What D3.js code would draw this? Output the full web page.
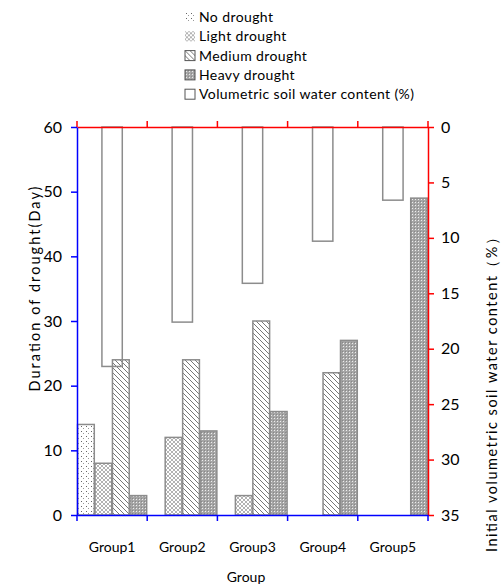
<!DOCTYPE html>
<html>
<head>
<meta charset="utf-8">
<script src="https://cdn.jsdelivr.net/npm/d3@7"></script>
<style>
  body { margin: 0; background: #fff; }
  text { font-family: Lato, 'Open Sans', sans-serif; }
</style>
</head>
<body>
<div id="chart"></div>
<script>
// values
const groups = ['Group1', 'Group2', 'Group3', 'Group4', 'Group5']
const noDrought = [14, 0, 0, 0, 0]
const lightDrought = [8, 12, 3, 0, 0]
const mediumDrought = [24, 24, 30, 22, 0]
const heavyDrought = [3, 13, 16, 27, 49]
const soilWater = [21.6, 17.6, 14.1, 10.3, 6.6]
const leftTicks = [0, 10, 20, 30, 40, 50, 60]
const rightTicks = [0, 5, 10, 15, 20, 25, 30, 35]
const seriesNames = ['No drought', 'Light drought', 'Medium drought', 'Heavy drought']
const legendNames = [...seriesNames, 'Volumetric soil water content (%)']

const width = 501
const height = 587
const margin = { top: 127, right: 73, bottom: 72, left: 77 }
const barStroke = '#8c8c8c'

const series = [noDrought, lightDrought, mediumDrought, heavyDrought]
const patternIds = ['pNo', 'pLight', 'pMedium', 'pHeavy']

const svg = d3.select('#chart').append('svg')
  .attr('width', width)
  .attr('height', height)

// hatch patterns
const defs = svg.append('defs')

const pNo = defs.append('pattern').attr('id', 'pNo')
  .attr('patternUnits', 'userSpaceOnUse').attr('width', 5).attr('height', 5)
pNo.append('rect').attr('width', 5).attr('height', 5).attr('fill', '#fff')
pNo.append('rect').attr('x', 1).attr('y', 1).attr('width', 1).attr('height', 1).attr('fill', '#666')
pNo.append('rect').attr('x', 3).attr('y', 3).attr('width', 1).attr('height', 1).attr('fill', '#999')

const pLight = defs.append('pattern').attr('id', 'pLight')
  .attr('patternUnits', 'userSpaceOnUse').attr('width', 4).attr('height', 4)
pLight.append('rect').attr('width', 4).attr('height', 4).attr('fill', '#fff')
pLight.append('path').attr('d', 'M0,0L4,4M4,0L0,4')
  .attr('stroke', '#aaa').attr('stroke-width', 0.9)

const pMedium = defs.append('pattern').attr('id', 'pMedium')
  .attr('patternUnits', 'userSpaceOnUse').attr('width', 5).attr('height', 5)
pMedium.append('rect').attr('width', 5).attr('height', 5).attr('fill', '#fff')
pMedium.append('path').attr('d', 'M-1,-1L6,6M-1,4L1,6M4,-1L6,1')
  .attr('stroke', '#777').attr('stroke-width', 1)

const pHeavy = defs.append('pattern').attr('id', 'pHeavy')
  .attr('patternUnits', 'userSpaceOnUse').attr('width', 3).attr('height', 3)
pHeavy.append('rect').attr('width', 3).attr('height', 3).attr('fill', '#a6a6a6')
pHeavy.append('rect').attr('x', 1).attr('y', 1).attr('width', 1).attr('height', 1).attr('fill', '#eee')
pHeavy.append('rect').attr('x', 0).attr('y', 0).attr('width', 1).attr('height', 1).attr('fill', '#888')

// scales
const x = d3.scaleBand()
  .domain(groups)
  .range([margin.left, width - margin.right])

const x1 = d3.scaleBand()
  .domain(d3.range(series.length))
  .range([0, x.bandwidth()])
  .paddingInner(0.04)
  .paddingOuter(0.03)

const yL = d3.scaleLinear()
  .domain([0, 60])
  .range([height - margin.bottom, margin.top])

const yR = d3.scaleLinear()
  .domain([0, 35])
  .range([margin.top, height - margin.bottom])

// drought bars
series.forEach((vals, si) => {
  svg.append('g')
    .selectAll('rect')
    .data(vals.map((v, i) => ({ g: groups[i], v })).filter(d => d.v > 0))
    .join('rect')
    .attr('x', d => x(d.g) + x1(si))
    .attr('y', d => yL(d.v))
    .attr('width', x1.bandwidth())
    .attr('height', d => yL(0) - yL(d.v))
    .attr('fill', `url(#${patternIds[si]})`)
    .attr('stroke', barStroke)
    .attr('stroke-width', 1.5)
})

// soil water bars hang from the top (reversed right axis)
const boxW = x.bandwidth() * 0.29
svg.append('g')
  .selectAll('rect')
  .data(soilWater.map((v, i) => ({ g: groups[i], v })))
  .join('rect')
  .attr('x', d => x(d.g) + x.bandwidth() / 2 - boxW / 2)
  .attr('y', yR(0))
  .attr('width', boxW)
  .attr('height', d => yR(d.v) - yR(0))
  .attr('fill', 'none')
  .attr('stroke', barStroke)
  .attr('stroke-width', 1.5)

// axes
const bounds = [...groups.map(g => x(g)), width - margin.right]

const styleAxis = (g, color) => {
  g.select('.domain').attr('stroke', color).attr('stroke-width', 1.5)
  g.selectAll('.tick line').attr('stroke', color).attr('stroke-width', 1.5)
  g.selectAll('.tick text').attr('fill', '#000')
}

svg.append('g')
  .attr('transform', `translate(0,${margin.top})`)
  .call(d3.axisTop(d3.scaleLinear().domain([0, 1]).range([margin.left, width - margin.right]))
    .tickValues([]).tickSizeOuter(0))
  .call(g => g.select('.domain').attr('stroke', 'red').attr('stroke-width', 1.5))
  .call(g => g.selectAll('.b').data(bounds).join('line')
    .attr('x1', d => d).attr('x2', d => d).attr('y1', 0).attr('y2', -6)
    .attr('stroke', 'red').attr('stroke-width', 1.5))

svg.append('g')
  .attr('transform', `translate(${width - margin.right},0)`)
  .call(d3.axisRight(yR).tickValues(rightTicks).tickSize(6).tickSizeOuter(0).tickPadding(7))
  .call(g => styleAxis(g, 'red'))
  .call(g => g.selectAll('.tick text').attr('font-size', 16).attr('font-family', 'Lato'))

svg.append('g')
  .attr('transform', `translate(${margin.left},0)`)
  .call(d3.axisLeft(yL).tickValues(leftTicks).tickSize(6).tickSizeOuter(0).tickPadding(9))
  .call(g => styleAxis(g, 'blue'))
  .call(g => g.selectAll('.tick text').attr('font-size', 16).attr('font-family', 'Lato'))

svg.append('g')
  .attr('transform', `translate(0,${height - margin.bottom})`)
  .call(d3.axisBottom(x).tickSize(0).tickSizeOuter(0).tickPadding(27))
  .call(g => g.select('.domain').attr('stroke', 'blue').attr('stroke-width', 1.5))
  .call(g => g.selectAll('.tick text').attr('font-size', 14).attr('font-family', 'Lato'))
  .call(g => g.selectAll('.b').data(bounds).join('line')
    .attr('x1', d => d).attr('x2', d => d).attr('y1', 0).attr('y2', 6)
    .attr('stroke', 'blue').attr('stroke-width', 1.5))

// axis titles
svg.append('text')
  .attr('transform', 'translate(40,289) rotate(-90)')
  .attr('text-anchor', 'middle')
  .attr('font-size', 14.5)
  .attr('textLength', 205)
  .attr('lengthAdjust', 'spacing')
  .text('Duration of drought(Day)')

svg.append('text')
  .attr('transform', 'translate(497,391) rotate(-90)')
  .attr('text-anchor', 'middle')
  .attr('font-size', 14.5)
  .attr('textLength', 322)
  .attr('lengthAdjust', 'spacing')
  .text('Initial volumetric soil water content（%）')

svg.append('text')
  .attr('x', 246)
  .attr('y', 582)
  .attr('text-anchor', 'middle')
  .attr('font-size', 14)
  .text('Group')

// legend
const legend = svg.append('g').attr('transform', 'translate(185,12)')
const row = legend.selectAll('g')
  .data(legendNames)
  .join('g')
  .attr('transform', (d, i) => `translate(0,${i * 19.3})`)

row.append('rect')
  .attr('width', 10).attr('height', 10).attr('y', 0)
  .attr('fill', (d, i) => i < 4 ? `url(#${patternIds[i]})` : '#fff')
  .attr('stroke', (d, i) => i < 2 ? 'none' : '#555')
  .attr('stroke-width', 1)

row.append('text')
  .attr('x', 14)
  .attr('y', 5)
  .attr('dy', '0.35em')
  .attr('font-size', 14)
  .attr('letter-spacing', 0.4)
  .text(d => d)
</script>
</body>
</html>
